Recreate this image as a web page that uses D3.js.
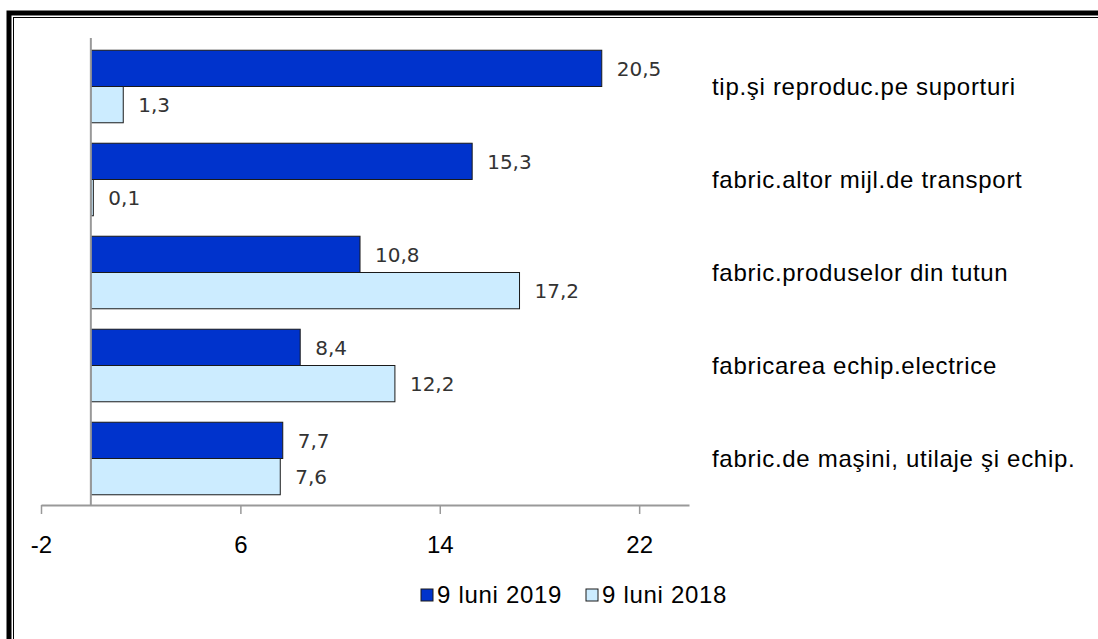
<!DOCTYPE html>
<html>
<head>
<meta charset="utf-8">
<script src="https://cdn.jsdelivr.net/npm/d3@7"></script>
<style>
  body { margin: 0; background: #fff; }
  svg { display: block; }
</style>
</head>
<body>
<div class="chart"></div>
<script>
// categorii (de sus in jos)
const categories = [
  "tip.şi reproduc.pe suporturi",
  "fabric.altor mijl.de transport",
  "fabric.produselor din tutun",
  "fabricarea echip.electrice",
  "fabric.de maşini, utilaje şi echip."
];
const series = ["9 luni 2019", "9 luni 2018"];
const values2019 = [20.5, 15.3, 10.8, 8.4, 7.7];
const values2018 = [1.3, 0.1, 17.2, 12.2, 7.6];
const tickValues = [-2, 6, 14, 22];

const width = 1098, height = 639;
const colors = ["#0033CC", "#CCECFF"];
const font = "'Liberation Sans', Arial, sans-serif";

const svg = d3.select(".chart").append("svg")
  .attr("width", width)
  .attr("height", height);

// rama
svg.append("rect").attr("x", 9).attr("y", 13).attr("width", 1200).attr("height", 800)
  .attr("fill", "none").attr("stroke", "#000").attr("stroke-width", 5);
svg.append("rect").attr("x", 13.5).attr("y", 17.5).attr("width", 1200).attr("height", 800)
  .attr("fill", "none").attr("stroke", "#000").attr("stroke-width", 1);

const x = d3.scaleLinear().domain([-2, 24]).range([41, 689]);
const y = d3.scaleBand().domain(categories).range([40, 505]).paddingInner(0.22).paddingOuter(0.11);
const ySub = d3.scaleBand().domain(series).range([0, y.bandwidth()]);

const data = categories.map((c, i) => ({ cat: c, vals: [values2019[i], values2018[i]] }));

const groups = svg.selectAll("g.cat")
  .data(data)
  .enter()
  .append("g")
  .attr("class", "cat")
  .attr("transform", d => `translate(0,${y(d.cat)})`);

groups.selectAll("rect")
  .data(d => d.vals.map((v, j) => ({ s: series[j], v: v, j: j })))
  .enter()
  .append("rect")
  .attr("x", x(0))
  .attr("y", d => ySub(d.s))
  .attr("width", d => x(d.v) - x(0))
  .attr("height", ySub.bandwidth())
  .attr("fill", d => colors[d.j])
  .attr("stroke", "#1a1a1a")
  .attr("stroke-width", 1);

// etichete valori
groups.selectAll("text.val")
  .data(d => d.vals.map((v, j) => ({ s: series[j], v: v })))
  .enter()
  .append("text")
  .attr("class", "val")
  .attr("x", d => x(d.v) + 15)
  .attr("y", d => ySub(d.s) + ySub.bandwidth() / 2)
  .attr("dy", "0.36em")
  .style("font-family", "'DejaVu Sans', sans-serif")
  .style("font-size", "20px")
  .style("fill", "#333")
  .text(d => d3.format(".1f")(d.v).replace(".", ","));

// etichete categorii
svg.selectAll("text.catlabel")
  .data(categories)
  .enter()
  .append("text")
  .attr("class", "catlabel")
  .attr("x", 712)
  .attr("y", d => y(d) + y.bandwidth() / 2)
  .attr("dy", "0.35em")
  .style("font-family", font)
  .style("font-size", "24px")
  .style("letter-spacing", "0.7px")
  .style("fill", "#000")
  .text(d => d);

// axa verticala
svg.append("line")
  .attr("x1", x(0)).attr("x2", x(0))
  .attr("y1", 38).attr("y2", 505)
  .attr("stroke", "#999").attr("stroke-width", 2);

// axa orizontala
const xAxis = svg.append("g")
  .attr("transform", "translate(0,505)")
  .call(d3.axisBottom(x).tickValues(tickValues).tickFormat(d => String(d))
    .tickSize(9).tickSizeOuter(0).tickPadding(22));
xAxis.select(".domain").attr("stroke", "#999").attr("stroke-width", 2);
xAxis.selectAll(".tick line").attr("stroke", "#999").attr("stroke-width", 1.5);
xAxis.selectAll(".tick text")
  .style("font-family", font)
  .style("font-size", "24px")
  .style("fill", "#000");

// legenda
const legend = svg.append("g").attr("transform", "translate(421,595)");
const legX = [0, 165];
series.forEach((s, i) => {
  legend.append("rect")
    .attr("x", legX[i]).attr("y", -6)
    .attr("width", 12).attr("height", 12)
    .attr("fill", colors[i])
    .attr("stroke", "#1a1a1a");
  legend.append("text")
    .attr("x", legX[i] + 16).attr("y", 0)
    .attr("dy", "0.35em")
    .style("font-family", font)
    .style("font-size", "24px")
    .style("letter-spacing", "0.7px")
    .style("fill", "#000")
    .text(s);
});
</script>
</body>
</html>
